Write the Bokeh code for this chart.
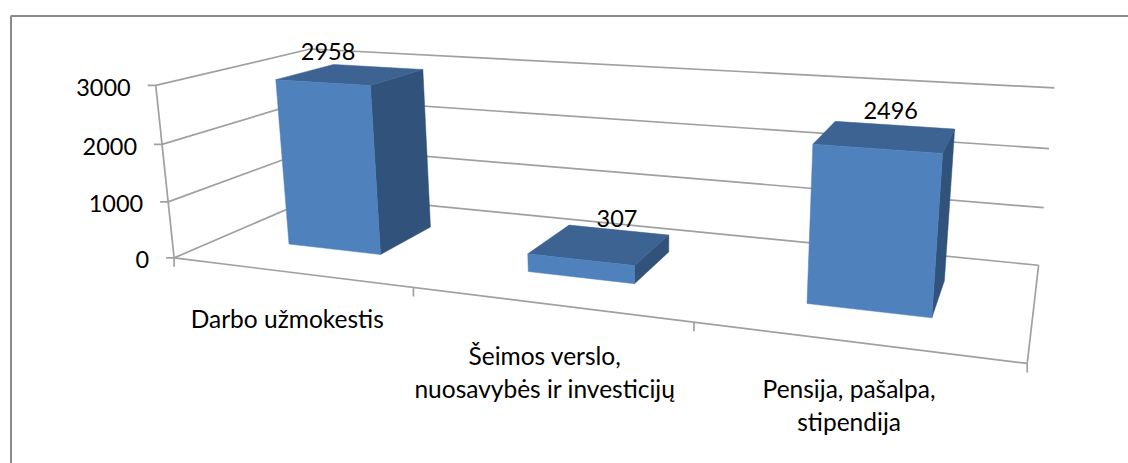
import numpy as np
from bokeh.core.properties import value
from bokeh.embed import file_html
from bokeh.models import Range1d
from bokeh.plotting import figure
from bokeh.resources import INLINE

# --- chart data -------------------------------------------------------
categories = ["Darbo užmokestis", "Šeimos verslo,\nnuosavybės ir investicijų", "Pensija, pašalpa,\nstipendija"]
series_values = [2958, 307, 2496]
value_ticks = [0, 1000, 2000, 3000]
value_tick_labels = ["0", "1000", "2000", "3000"]

# --- 3D scene layout: screen positions of the box corners, (u, v, w) -> (px, py)
U_MAX, W_MAX = 3.0, 3000.0
BOX_ANCHORS = [
    ((0, 0, 0), (173, 257)), ((0, 0, W_MAX), (156, 85)),
    ((0, 1, 0), (321, 195)), ((0, 1, W_MAX), (309, 48)),
    ((U_MAX, 1, 0), (1038, 264)), ((U_MAX, 1, W_MAX), (1054, 88)),
    ((U_MAX, 0, 0), (1027, 363)),
    ((1, 0, 0), (413, 287)), ((2, 0, 0), (693, 322)),
]
BAR_U = (0.30, 0.70)
BAR_V = (0.30, 0.70)
FONT = "Lato"
FS_NUM = "23.5px"
FS_CAT = "24.5px"
LABEL_OFFSETS = [(-2, 46), (-3, 51), (-4, 47)]
DATA_LABEL_OFFSETS = [(-23, -23), (17, -26), (5, -26)]
LINE_H = 33


def fit_projection(anchors):
    rows, rhs = [], []
    for (u, v, w), (px, py) in anchors:
        w_ = w / W_MAX
        rows.append([u, v, w_, 1, 0, 0, 0, 0, -px * u, -px * v, -px * w_])
        rhs.append(px)
        rows.append([0, 0, 0, 0, u, v, w_, 1, -py * u, -py * v, -py * w_])
        rhs.append(py)
    sol = np.linalg.lstsq(np.array(rows, float), np.array(rhs, float), rcond=None)[0]
    return np.append(sol, 1.0).reshape(3, 4)


M = fit_projection(BOX_ANCHORS)


def project(u, v, w):
    h = M @ np.array([u, v, w / W_MAX, 1.0])
    return float(h[0] / h[2]), float(h[1] / h[2])


def patch_of(points):
    pts = [project(*q) for q in points]
    return [a for a, _ in pts], [b for _, b in pts]


p = figure(width=1128, height=463, x_range=Range1d(0, 1128), y_range=Range1d(463, 0),
           toolbar_location=None, output_backend="svg", min_border=0,
           background_fill_color="white", border_fill_color="white", outline_line_color=None)
p.axis.visible = False
p.grid.visible = False

# chart frame: only the top and left edges fall inside the picture
p.line([10.5, 10.5, 1128], [463, 15.5, 15.5], line_color="#8a8a8a", line_width=2)

# walls and gridlines
xs, ys = [], []
for t in value_ticks:
    a, b = patch_of([(0, 0, t), (0, 1, t), (U_MAX, 1, t)])
    xs.append(a); ys.append(b)
    a, b = patch_of([(0, 0, t)])
    xs.append([a[0], a[0] - 8]); ys.append([b[0], b[0]])
for pts in ([(0, 0, 0), (0, 0, W_MAX)], [(U_MAX, 1, 0), (U_MAX, 0, 0)], [(0, 0, 0), (U_MAX, 0, 0)]):
    a, b = patch_of(pts)
    xs.append(a); ys.append(b)
for i in range(int(U_MAX) + 1):
    a, b = patch_of([(i, 0, 0)])
    xs.append([a[0], a[0]]); ys.append([b[0], b[0] + 9])
p.multi_line(xs, ys, line_color="#a0a0a0", line_width=1.7)

# bars
top_xs, top_ys, side_xs, side_ys, front_xs, front_ys = [], [], [], [], [], []
for i, val in enumerate(series_values):
    u0, u1 = i + BAR_U[0], i + BAR_U[1]
    v0, v1 = BAR_V
    a, b = patch_of([(u1, v0, 0), (u1, v1, 0), (u1, v1, val), (u1, v0, val)])
    side_xs.append(a); side_ys.append(b)
    a, b = patch_of([(u0, v0, val), (u1, v0, val), (u1, v1, val), (u0, v1, val)])
    top_xs.append(a); top_ys.append(b)
    a, b = patch_of([(u0, v0, 0), (u1, v0, 0), (u1, v0, val), (u0, v0, val)])
    front_xs.append(a); front_ys.append(b)
p.patches(side_xs, side_ys, fill_color="#30527B", line_color="#30527B", line_width=0.5)
p.patches(top_xs, top_ys, fill_color="#3C6391", line_color="#3C6391", line_width=0.5)
p.patches(front_xs, front_ys, fill_color="#4F81BD", line_color="#4F81BD", line_width=0.5)


def text_layer(x, y, t, size, align="center"):
    p.text(x=x, y=y, text=t, text_align=align, text_baseline="middle", text_color="black",
           text_font=value(FONT), text_font_size=value(size))


# value axis labels
ax, ay = [], []
for t in value_ticks:
    a, b = project(0, 0, t)
    ax.append(a - 25); ay.append(b + 2)
text_layer(ax, ay, value_tick_labels, FS_NUM, "right")

# data labels
dx, dy = [], []
for i, val in enumerate(series_values):
    a, b = project(i + sum(BAR_U) / 2, 0.5, val)
    dx.append(a + DATA_LABEL_OFFSETS[i][0]); dy.append(b + DATA_LABEL_OFFSETS[i][1])
text_layer(dx, dy, [str(v) for v in series_values], FS_NUM)

# category labels
cx, cy, ct = [], [], []
for i, cat in enumerate(categories):
    a, b = project(i + 0.5, 0, 0)
    for j, line in enumerate(cat.split("\n")):
        cx.append(a + LABEL_OFFSETS[i][0])
        cy.append(b + LABEL_OFFSETS[i][1] + j * LINE_H)
        ct.append(line)
text_layer(cx, cy, ct, FS_CAT)

open("out.html", "w").write(file_html(p, INLINE))
